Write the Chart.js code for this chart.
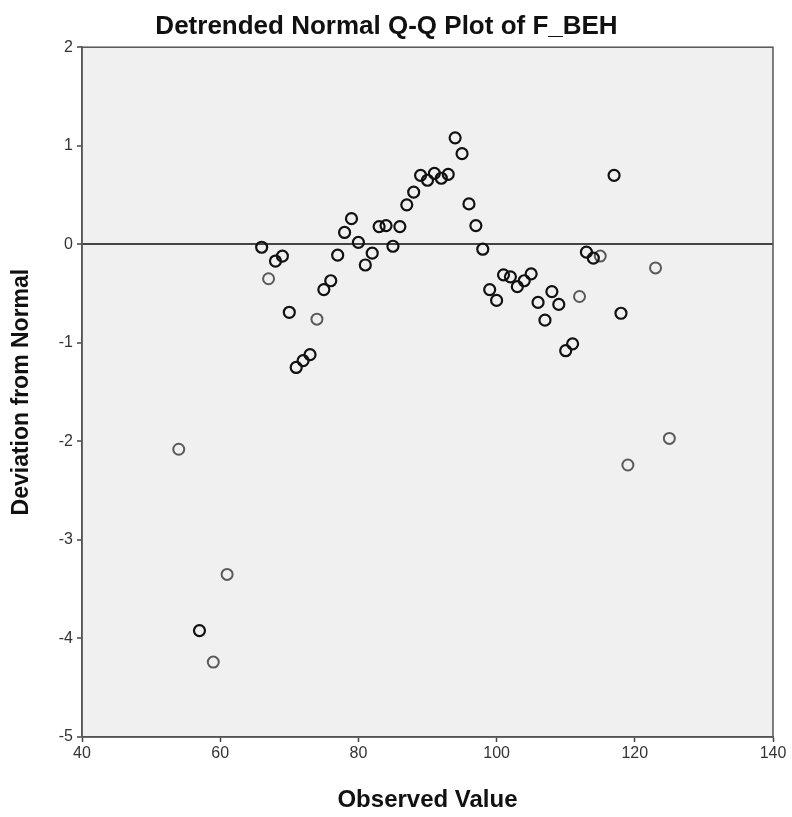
<!DOCTYPE html>
<html>
<head>
<meta charset="utf-8">
<script src="https://cdn.jsdelivr.net/npm/chart.js@4"></script>
<style>
  html, body { margin: 0; padding: 0; background: #ffffff; }
  #wrap { width: 792px; height: 817px; }
</style>
</head>
<body>
<div id="wrap"><canvas id="qq"></canvas></div>
<script>
// --- Data ---
// values that occur more than once (drawn darker)
const repeatedObserved = [57, 66, 68, 69, 70, 71, 72, 73, 75, 76, 77, 78, 79, 80, 81, 82, 83, 84, 85, 86,
    87, 88, 89, 90, 91, 92, 93, 94, 95, 96, 97, 98, 99, 100, 101, 102, 103, 104, 105, 106,
    107, 108, 109, 110, 111, 113, 114, 117, 118];
const repeatedDeviation = [-3.92, -0.03, -0.17, -0.12, -0.69, -1.25, -1.18, -1.12, -0.46, -0.37, -0.11, 0.12, 0.26, 0.02, -0.21, -0.09, 0.18, 0.19, -0.02, 0.18,
    0.40, 0.53, 0.70, 0.65, 0.72, 0.67, 0.71, 1.08, 0.92, 0.41, 0.19, -0.05, -0.46, -0.57, -0.31, -0.33, -0.43, -0.37, -0.30, -0.59,
    -0.77, -0.48, -0.61, -1.08, -1.01, -0.08, -0.14, 0.70, -0.70];

// values that occur once (drawn lighter)
const singleObserved = [54, 59, 61, 67, 74, 112, 115, 119, 123, 125];
const singleDeviation = [-2.08, -4.24, -3.35, -0.35, -0.76, -0.53, -0.12, -2.24, -0.24, -1.97];

const xTicks = [40, 60, 80, 100, 120, 140];
const yTicks = [-5, -4, -3, -2, -1, 0, 1, 2];

const toPoints = (xs, ys) => xs.map((x, i) => ({ x: x, y: ys[i] }));

// --- plot panel background + frame ---
const panelPlugin = {
    id: 'panel',
    beforeDraw(chart) {
        const { ctx, chartArea: a } = chart;
        ctx.save();
        ctx.fillStyle = '#f0f0f0';
        ctx.fillRect(a.left, a.top, a.right - a.left, a.bottom - a.top);
        ctx.restore();
    },
    afterDatasetsDraw(chart) {
        const { ctx, chartArea: a } = chart;
        ctx.save();
        ctx.strokeStyle = '#555555';
        ctx.lineWidth = 1.5;
        ctx.strokeRect(a.left, a.top, a.right - a.left, a.bottom - a.top);
        ctx.restore();
    }
};

const tickFont = { family: 'Liberation Sans, Arial, sans-serif', size: 16 };
const titleFont = { family: 'Liberation Sans, Arial, sans-serif', size: 23, weight: 'bold' };

new Chart(document.getElementById('qq'), {
    type: 'scatter',
    data: {
        datasets: [
            {
                label: 'repeated',
                data: toPoints(repeatedObserved, repeatedDeviation),
                borderColor: '#111111',
                backgroundColor: 'rgba(0,0,0,0)',
                pointRadius: 5.5,
                pointBorderWidth: 2.2,
                pointHoverRadius: 5.5
            },
            {
                label: 'single',
                data: toPoints(singleObserved, singleDeviation),
                borderColor: '#5a5a5a',
                backgroundColor: 'rgba(0,0,0,0)',
                pointRadius: 5.5,
                pointBorderWidth: 2,
                pointHoverRadius: 5.5
            }
        ]
    },
    options: {
        responsive: true,
        maintainAspectRatio: false,
        animation: false,
        layout: { padding: { left: 0, right: 19, top: 0, bottom: 0 } },
        plugins: {
            legend: { display: false },
            tooltip: { enabled: false },
            title: {
                display: true,
                text: 'Detrended Normal Q-Q Plot of F_BEH',
                color: '#111111',
                font: { family: 'Liberation Sans, Arial, sans-serif', size: 26, weight: 'bold' },
                padding: { top: 11, bottom: 5 }
            }
        },
        scales: {
            x: {
                type: 'linear',
                min: 40,
                max: 140,
                afterBuildTicks: (scale) => { scale.ticks = xTicks.map(v => ({ value: v })); },
                afterFit: (scale) => { scale.height = 80; },
                ticks: { color: '#333333', font: tickFont, padding: 2, maxRotation: 0 },
                grid: { drawOnChartArea: false, tickLength: 5, tickColor: '#444444', tickWidth: 1.5 },
                border: { color: '#555555', width: 1.5 },
                title: {
                    display: true,
                    text: 'Observed Value',
                    color: '#111111',
                    font: { family: 'Liberation Sans, Arial, sans-serif', size: 24, weight: 'bold' },
                    padding: { top: 0, bottom: 2 }
                }
            },
            y: {
                type: 'linear',
                min: -5,
                max: 2,
                afterBuildTicks: (scale) => { scale.ticks = yTicks.map(v => ({ value: v })); },
                afterFit: (scale) => { scale.width = 82; },
                ticks: { color: '#333333', font: tickFont, padding: 4 },
                grid: {
                    drawOnChartArea: true,
                    color: (c) => (c.tick && c.tick.value === 0 ? '#444444' : 'rgba(0,0,0,0)'),
                    lineWidth: (c) => (c.tick && c.tick.value === 0 ? 2 : 0),
                    tickLength: 5,
                    tickColor: '#444444',
                    tickWidth: 1.5
                },
                border: { color: '#555555', width: 1.5 },
                title: {
                    display: true,
                    text: 'Deviation from Normal',
                    color: '#111111',
                    font: titleFont,
                    padding: { top: 8, bottom: 0 }
                }
            }
        }
    },
    plugins: [panelPlugin]
});
</script>
</body>
</html>
